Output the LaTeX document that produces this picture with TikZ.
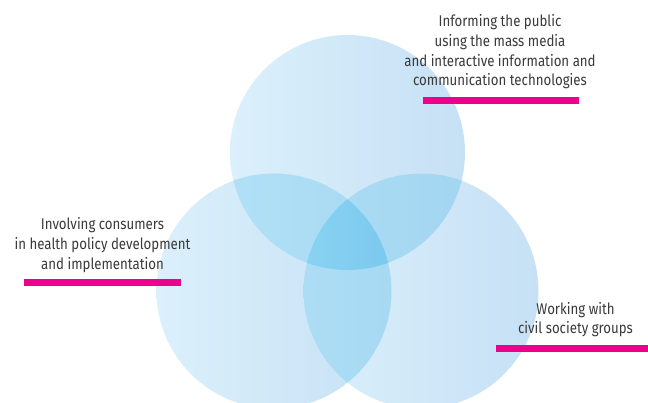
\documentclass[tikz,border=0pt]{standalone}
\usepackage{fontspec}
\setmainfont{Fira Sans}[FakeStretch=0.855]
\definecolor{sA}{HTML}{DBF0FB}
\definecolor{sB}{HTML}{C6E0F5}
\definecolor{dA}{HTML}{B4E4F8}
\definecolor{dB}{HTML}{9FD2EF}
\definecolor{tA}{HTML}{8AD3F3}
\definecolor{tB}{HTML}{7AC8EE}
\definecolor{txt}{HTML}{3A3A3A}
\definecolor{mag}{HTML}{EC008C}
\tikzset{
  lbl/.style={align=center, anchor=base, inner sep=0pt, text=txt, font=\fontsize{15.5}{19.8}\selectfont},
  bar/.style={draw=mag, line width=6.5pt},
}
\begin{document}
\begin{tikzpicture}[x=1pt,y=-1pt]
\useasboundingbox (0,0) rectangle (648,403);
\fill[white] (0,0) rectangle (648,403);
\def\R{117.5pt}
\coordinate (T) at (347.5,152.5);
\coordinate (L) at (274,291);
\coordinate (Rc) at (421,291);
% single circles
\shade[left color=sA, right color=sB] (T) circle[radius=\R];
\shade[left color=sA, right color=sB] (L) circle[radius=\R];
\shade[left color=sA, right color=sB] (Rc) circle[radius=\R];
% pairwise overlaps
\begin{scope}
  \clip (T) circle[radius=\R];
  \clip (L) circle[radius=\R];
  \shade[left color=dA, right color=dB] (156,0) rectangle (538,403);
\end{scope}
\begin{scope}
  \clip (T) circle[radius=\R];
  \clip (Rc) circle[radius=\R];
  \shade[left color=dA, right color=dB] (156,0) rectangle (538,403);
\end{scope}
\begin{scope}
  \clip (L) circle[radius=\R];
  \clip (Rc) circle[radius=\R];
  \shade[left color=dA, right color=dB] (156,0) rectangle (538,403);
\end{scope}
% triple overlap
\begin{scope}
  \clip (T) circle[radius=\R];
  \clip (L) circle[radius=\R];
  \clip (Rc) circle[radius=\R];
  \shade[left color=tA, right color=tB] (300,150) rectangle (395,280);
\end{scope}
% labels
\node[lbl] (info) at (500,86) {Informing the public\\using the mass media\\and interactive information and\\communication technologies};
\node[lbl] (cons) at (102.5,269.3) {Involving consumers\\in health policy development\\and implementation};
\node[lbl] (civ) at (575.5,334) {Working with\\civil society groups};
\draw[bar] (423,100.5) -- (579,100.5);
\draw[bar] (24,282.5) -- (181,282.5);
\draw[bar] (496,348.5) -- (648,348.5);
\end{tikzpicture}
\end{document}
